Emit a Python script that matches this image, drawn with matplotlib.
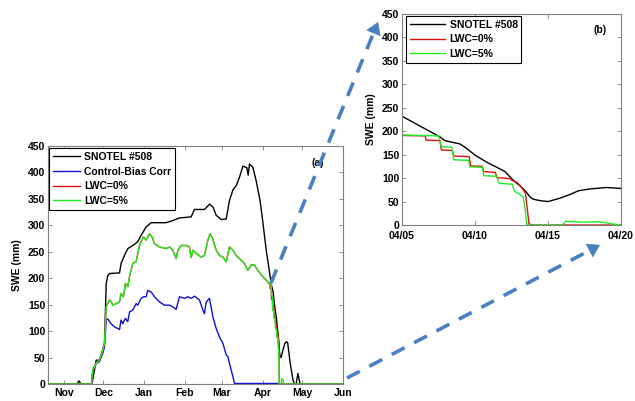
import matplotlib
matplotlib.use("Agg")
import matplotlib.pyplot as plt
from matplotlib.lines import Line2D
from matplotlib.patches import FancyArrowPatch

plt.rcParams['font.family'] = ['Liberation Sans', 'DejaVu Sans']
plt.rcParams['font.weight'] = 'bold'

# ---------------- Data: panel (a), x = days since Nov 1 ----------------
month_labels = ['Nov', 'Dec', 'Jan', 'Feb', 'Mar', 'Apr', 'May', 'Jun']
month_days = [0, 30, 61, 92, 120, 151, 181, 212]

snotel_days = [-12, 10, 11.5, 13, 20, 21.5, 24.6, 27, 29, 30.9, 32.2, 33.4, 35, 42.3, 43.5, 46, 48.6,
               52.4, 56.2, 58.7, 62.5, 66.3, 77.7, 82.8, 87.8, 96.7, 99.2, 106.8, 110.6, 113.2,
               115.7, 119.5, 123.3, 125.8, 128.4, 130.9, 133.4, 136, 139, 140, 141, 143.5, 146,
               149, 151, 153.7, 155, 157.6, 159, 160, 161.5, 162.6, 163.5, 164, 165, 166.5,
               167.9, 169, 170, 171.9, 174, 175.2, 176.5, 177.7, 179.5, 212]
snotel_vals = [0, 0, 6, 0, 0, 2, 45, 45, 60, 77, 190, 205, 209, 210, 228, 243, 256,
               262, 269, 281, 297, 305, 305, 309, 314, 316, 330, 330, 340, 335,
               319, 311, 312, 347, 367, 375, 391, 412, 409, 395, 416, 410, 385,
               347, 309, 253, 232, 188, 173, 149, 123, 96, 71, 55, 50, 65,
               77, 80, 78, 39, 8, 0, 0, 20, 0, 0]

ctrl_days = [-12, 21, 22, 24.6, 27, 29.6, 30.9, 32.2, 33.4, 35.9, 38.5, 42.3, 43.5, 44.8, 46.8,
             48.6, 49.9, 52.4, 54.9, 56.2, 58.7, 60.5, 62.5, 63.8, 66.3, 68.9, 72.7, 76.5, 80.3,
             82.8, 85.3, 87.8, 91.6, 94.2, 96.7, 99.2, 103, 105.6, 106.8, 108.1, 110.6, 113.2,
             115.7, 118.2, 120.8, 123.3, 124.6, 125.8, 128.4, 129.6, 163.5, 164, 212]
ctrl_vals = [0, 0, 26, 39, 42, 58, 70, 121, 123, 114, 108, 103, 121, 114, 124,
             118, 136, 140, 152, 149, 162, 165, 165, 177, 174, 165, 155, 149, 149,
             146, 141, 165, 162, 165, 162, 166, 159, 140, 133, 155, 162, 127,
             105, 89, 77, 55, 52, 39, 14, 1, 1, 0, 0]

lwc5_days = [-12, 21, 22, 24.6, 27, 29.6, 30.9, 32.2, 33.4, 34.7, 35.9, 37.2, 39.7, 42.3, 43.5,
             45.3, 46.8, 48.6, 49.9, 52.4, 54.9, 56.2, 57.5, 58.7, 60.5, 62.5, 65, 67.1, 68.9,
             72.7, 77.7, 80.3, 82.8, 85.3, 86.6, 89.1, 92.9, 95.4, 96.7, 98, 100.5, 104.3,
             106.8, 109.4, 111.1, 113.2, 115.7, 118.2, 120.8, 123.3, 125.8, 128.4, 130.9,
             133.4, 137.2, 139.7, 142.3, 144.8, 147.3, 151.1, 155]
lwc5_vals = [0, 0, 26, 39, 45, 64, 77, 146, 152, 159, 156, 149, 152, 155, 171,
             165, 190, 184, 203, 228, 231, 247, 262, 269, 278, 272, 284, 278, 265,
             259, 256, 259, 253, 237, 253, 262, 262, 259, 239, 253, 247, 240,
             243, 272, 284, 274, 253, 243, 240, 231, 259, 253, 243,
             237, 228, 215, 225, 225, 215, 203, 193]

# ---------------- Data: panel (b), x = day of April ----------------
b_ticks = [5, 10, 15, 20]
b_ticklabels = ['04/05', '04/10', '04/15', '04/20']

b_snotel_days = [5, 7.59, 7.93, 8.96, 9.4, 10.0, 10.8, 11.5, 12.05, 12.6, 13.1, 13.5, 13.76,
                 13.99, 14.45, 15.0, 15.8, 16.5, 17.08, 17.9, 19.0, 20]
b_snotel_vals = [232, 188, 180, 173, 164, 149, 134, 123, 114, 96, 83, 71, 60,
                 55, 52, 50, 57, 65, 73, 77, 80, 78]

b_lwc0_days = [5, 6.6, 6.65, 7.6, 7.7, 8.45, 8.55, 9.6, 9.7, 10.5, 10.6, 11.4, 11.5, 12.4,
               12.5, 12.9, 13.2, 13.45, 13.6, 13.7, 14.0, 20]
b_lwc0_vals = [191, 190, 181, 180, 160, 159, 147, 146, 126, 125, 114, 112, 101, 99,
               96, 90, 80, 68, 30, 2, 0, 0]

b_lwc5_days = [5, 7.5, 7.7, 8.4, 8.55, 9.55, 9.65, 10.5, 10.6, 11.5, 11.65, 12.55, 12.7, 13.0,
               13.3, 13.45, 13.55, 16.0, 16.2, 17.5, 18.5, 19.5, 20]
b_lwc5_vals = [192, 190, 167, 166, 139, 138, 124, 123, 105, 104, 89, 87, 72, 66,
               60, 30, 0, 0, 8, 6, 7, 2, 0]

# post-April tails for panel (a) LWC runs
a_tail_days = [165, 165.5, 166.5, 167, 212]
a_tail_vals = [0, 10, 8, 0, 0]

APRIL0 = 150  # day offset of "April 0" relative to Nov 1

# Build panel (a) LWC series from the pieces above
a_lwc5_days = lwc5_days + [APRIL0 + d for d in b_lwc5_days if d <= 13.55] + a_tail_days
a_lwc5_vals = lwc5_vals + [v for d, v in zip(b_lwc5_days, b_lwc5_vals) if d <= 13.55] + a_tail_vals
a_lwc0_days = lwc5_days + [APRIL0 + d for d in b_lwc0_days if d <= 14.0] + [212]
a_lwc0_vals = lwc5_vals + [v for d, v in zip(b_lwc0_days, b_lwc0_vals) if d <= 14.0] + [0]

# ---------------- Styling ----------------
W, H = 635, 401
C_BLACK = '#000000'
C_BLUE = '#1010d0'
C_RED = '#e01010'
C_GREEN = '#20ee20'
SPINE = '#7f7f7f'
FS = 7.5
LW = 1.0

fig = plt.figure(figsize=(W / 100, H / 100), dpi=100)


def px_axes(x0, y0, x1, y1):
    return fig.add_axes([x0 / W, 1 - y1 / H, (x1 - x0) / W, (y1 - y0) / H])


def style(ax, xpad=2):
    for s in ax.spines.values():
        s.set_color(SPINE)
        s.set_linewidth(0.8)
    ax.tick_params(direction='in', top=True, right=True, length=3, width=0.6,
                   color=SPINE, labelsize=FS, pad=2)
    ax.tick_params(axis='x', pad=xpad)
    for lab in ax.get_xticklabels() + ax.get_yticklabels():
        lab.set_fontweight('bold')
    ax.set_yticks(range(0, 451, 50))
    ax.set_ylim(0, 450)
    ax.set_ylabel('SWE (mm)', fontsize=FS, fontweight='bold', labelpad=4)


# Panel (a)
axa = px_axes(48, 146, 343, 384)
axa.plot(snotel_days, snotel_vals, color=C_BLACK, lw=LW, label='SNOTEL #508')
axa.plot(ctrl_days, ctrl_vals, color=C_BLUE, lw=LW, label='Control-Bias Corr')
axa.plot(a_lwc0_days, a_lwc0_vals, color=C_RED, lw=LW, label='LWC=0%')
axa.plot(a_lwc5_days, a_lwc5_vals, color=C_GREEN, lw=LW, label='LWC=5%')
axa.set_xlim(-12, 212)
axa.set_xticks(month_days)
axa.set_xticklabels(month_labels)
style(axa, xpad=3)
leg = axa.legend(loc='upper left', bbox_to_anchor=(0.005, 0.99), fontsize=FS, frameon=True,
                 fancybox=False, edgecolor='black', framealpha=1, handlelength=2.6,
                 handletextpad=0.4, labelspacing=0.45, borderpad=0.35, borderaxespad=0)
leg.get_frame().set_linewidth(0.8)
for t in leg.get_texts():
    t.set_fontweight('bold')
axa.text(0.915, 0.93, '(a)', transform=axa.transAxes, fontsize=FS, fontweight='bold',
         ha='center', va='center')

# Panel (b)
axb = px_axes(402, 14, 621, 225)
axb.plot(b_snotel_days, b_snotel_vals, color=C_BLACK, lw=LW, label='SNOTEL #508')
axb.plot(b_lwc0_days, b_lwc0_vals, color=C_RED, lw=LW, label='LWC=0%')
axb.plot(b_lwc5_days, b_lwc5_vals, color=C_GREEN, lw=LW, label='LWC=5%')
axb.set_xlim(5, 20)
axb.set_xticks(b_ticks)
axb.set_xticklabels(b_ticklabels)
style(axb, xpad=4)
leg = axb.legend(loc='upper left', bbox_to_anchor=(0.02, 0.99), fontsize=FS, frameon=True,
                 fancybox=False, edgecolor='black', framealpha=1, handlelength=3.4,
                 handletextpad=0.4, labelspacing=0.45, borderpad=0.35, borderaxespad=0)
leg.get_frame().set_linewidth(0.8)
for t in leg.get_texts():
    t.set_fontweight('bold')
axb.text(0.905, 0.925, '(b)', transform=axb.transAxes, fontsize=FS, fontweight='bold',
         ha='center', va='center')

# Dashed zoom arrows (figure pixel coordinates)
ARROW = '#4a7fc1'


def fp(x, y):
    return (x / W, 1 - y / H)


def dashed_arrow(p0, p1):
    (x0, y0), (x1, y1) = fp(*p0), fp(*p1)
    fx, fy = p1[0] - p0[0], p1[1] - p0[1]
    L = (fx ** 2 + fy ** 2) ** 0.5
    ux, uy = fx / L, fy / L
    hx, hy = fp(p1[0] - ux * 9, p1[1] - uy * 9)
    fig.add_artist(Line2D([x0, hx], [y0, hy], transform=fig.transFigure, color=ARROW,
                          lw=2.6, linestyle=(0, (4, 3)), solid_capstyle='butt',
                          dash_capstyle='butt'))
    fig.add_artist(FancyArrowPatch(fp(p1[0] - ux * 10, p1[1] - uy * 10), (x1, y1),
                                   transform=fig.transFigure,
                                   arrowstyle='-|>,head_length=5,head_width=3.2',
                                   color=ARROW, lw=0.5, mutation_scale=1.6,
                                   shrinkA=0, shrinkB=0))


dashed_arrow((271, 283), (378, 22))
dashed_arrow((347, 378), (600, 245))

fig.savefig('out.png', dpi=100)
